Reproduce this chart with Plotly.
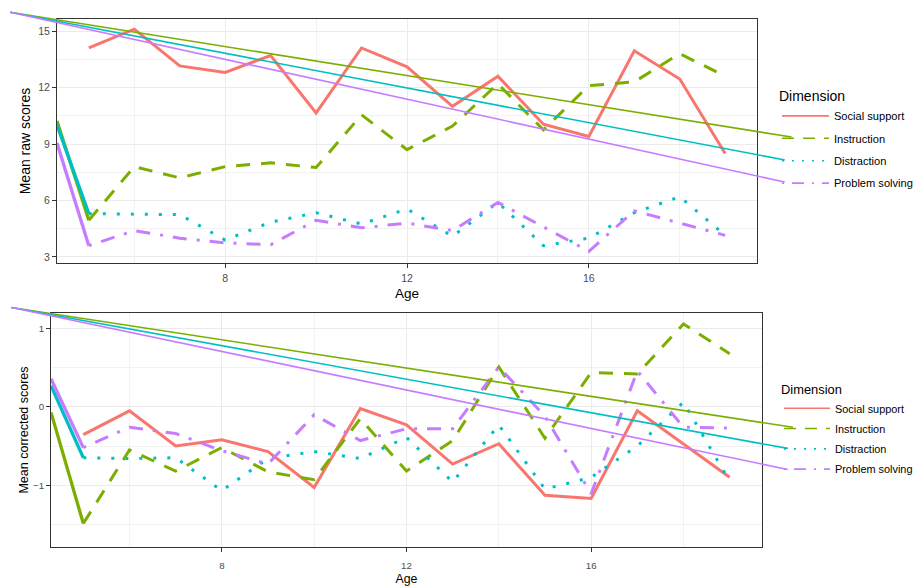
import plotly.graph_objects as go

AGES = list(range(5, 20))
DIMENSIONS = ['Social support', 'Instruction', 'Distraction', 'Problem solving']
COLORS = ['#F8766D', '#7CAE00', '#00BFC4', '#C77CFF']
DASHES = ['solid', '14px,11px', '3px,11px', '3px,10px,14px,10px']
KEY_DASHES = ['solid', '12px,9px', '2px,8px', '2px,8px,12px,8px']

# mean raw scores by age
RAW_SOCIAL = [14.1, 15.1, 13.15, 12.8, 13.7, 10.65, 14.1, 13.1, 11.0, 12.6, 10.05, 9.4, 13.95, 12.45, 8.5]
RAW_INSTRUCTION = [4.95, 7.8, 7.2, 7.8, 8.0, 7.75, 10.55, 8.7, 9.95, 12.2, 9.75, 12.1, 12.3, 13.8, 12.6]
RAW_DISTRACTION = [5.3, 5.28, 5.25, 3.9, 4.85, 5.35, 4.75, 5.55, 4.1, 5.9, 3.6, 4.0, 5.35, 6.2, 4.15]
RAW_PROBLEM = [3.6, 4.4, 4.0, 3.75, 3.65, 4.95, 4.55, 4.8, 4.4, 5.9, 4.6, 3.3, 5.45, 4.8, 4.15]

# mean corrected scores by age
COR_SOCIAL = [-0.355, -0.05, -0.5, -0.42, -0.57, -1.03, -0.02, -0.23, -0.73, -0.47, -1.13, -1.17, -0.05, -0.48, -0.9]
COR_INSTRUCTION = [-1.49, -0.55, -0.82, -0.52, -0.83, -0.93, -0.15, -0.82, -0.43, 0.51, -0.4, 0.44, 0.42, 1.06, 0.68]
COR_DISTRACTION = [-0.65, -0.66, -0.65, -1.07, -0.66, -0.57, -0.66, -0.39, -0.96, -0.23, -1.05, -0.9, -0.5, 0.06, -0.95]
COR_PROBLEM = [-0.52, -0.26, -0.34, -0.56, -0.73, -0.1, -0.43, -0.28, -0.28, 0.51, -0.12, -1.11, 0.46, -0.26, -0.27]

RAW = [RAW_SOCIAL, RAW_INSTRUCTION, RAW_DISTRACTION, RAW_PROBLEM]
COR = [COR_SOCIAL, COR_INSTRUCTION, COR_DISTRACTION, COR_PROBLEM]

# stray segments the original renderer left on the page (data units of each panel)
RAW_LEADIN = [None, 10.22, 10.0, 9.05]
COR_LEADIN = [None, -0.07, 0.27, 0.36]
RAW_STRAY_START = (3.27, 16.0)
RAW_STRAY_END = [None, (20.46, 9.37), (20.31, 8.15), (20.31, 6.98)]
COR_STRAY_START = (3.44, 1.27)
COR_STRAY_END = [None, (20.37, -0.26), (20.26, -0.53), (20.26, -0.80)]

X_RANGE = [4.3, 19.7]
RAW_RANGE = [2.68, 15.64]
COR_RANGE = [-1.79, 1.2]

FONT = 'Liberation Sans, Arial, sans-serif'

fig = go.Figure()


def add_panel(values, leadin, xa, ya, legend):
    for i, name in enumerate(DIMENSIONS):
        if leadin[i] is not None:
            fig.add_trace(go.Scatter(x=[X_RANGE[0], AGES[0]], y=[leadin[i], values[i][0]],
                                     mode='lines', line=dict(color=COLORS[i], width=3.3),
                                     xaxis=xa, yaxis=ya, showlegend=False, hoverinfo='skip'))
    for i, name in enumerate(DIMENSIONS):
        fig.add_trace(go.Scatter(x=AGES, y=values[i], name=name, mode='lines',
                                 line=dict(color=COLORS[i], width=3, dash=DASHES[i]),
                                 xaxis=xa, yaxis=ya, showlegend=False))
        # legend-only entry with the thinner ggplot key
        fig.add_trace(go.Scatter(x=[None], y=[None], name=name, mode='lines',
                                 line=dict(color=COLORS[i], width=1.6, dash=KEY_DASHES[i]),
                                 xaxis=xa, yaxis=ya, legend=legend, legendgroup=legend + name))


def add_strays(start, ends, yr, xref, yref):
    def fx(v):
        return (v - X_RANGE[0]) / (X_RANGE[1] - X_RANGE[0])

    def fy(v):
        return (v - yr[0]) / (yr[1] - yr[0])

    for i, end in enumerate(ends):
        if end is None:
            continue
        fig.add_shape(type='line', xref=xref, yref=yref,
                      x0=fx(start[0]), y0=fy(start[1]), x1=fx(end[0]), y1=fy(end[1]),
                      line=dict(color=COLORS[i], width=1.6), layer='above')


add_panel(RAW, RAW_LEADIN, 'x', 'y', 'legend')
add_panel(COR, COR_LEADIN, 'x2', 'y2', 'legend2')
add_strays(RAW_STRAY_START, RAW_STRAY_END, RAW_RANGE, 'x domain', 'y domain')
add_strays(COR_STRAY_START, COR_STRAY_END, COR_RANGE, 'x2 domain', 'y2 domain')


def axis_style(tick_size, title_size):
    return dict(showline=True, mirror=True, linecolor='#333333', linewidth=1,
                ticks='outside', ticklen=4, tickcolor='#333333', tickwidth=1,
                showgrid=True, gridcolor='#EBEBEB', gridwidth=1, zeroline=False,
                automargin=False,
                tickfont=dict(family=FONT, size=tick_size, color='#4D4D4D'),
                title_font=dict(family=FONT, size=title_size, color='black'))


xa1 = axis_style(10.5, 13.5)
xa1.update(domain=[0.05355, 0.8186], range=X_RANGE, tick0=0, dtick=4, ticklabelstandoff=1,
           minor=dict(dtick=2, showgrid=True, gridcolor='#F2F2F2', gridwidth=1),
           title=dict(text='Age', standoff=5), anchor='y')
ya1 = axis_style(10.5, 14)
ya1.update(domain=[0.5588, 0.9810], range=RAW_RANGE, tick0=0, dtick=3,
           minor=dict(dtick=1.5, showgrid=True, gridcolor='#F2F2F2', gridwidth=1),
           title=dict(text='Mean raw scores', standoff=4), anchor='x')
xa2 = axis_style(9.7, 12.3)
xa2.update(domain=[0.0470, 0.8240], range=X_RANGE, tick0=0, dtick=4, ticklabelstandoff=5,
           minor=dict(dtick=2, showgrid=True, gridcolor='#F2F2F2', gridwidth=1),
           title=dict(text='Age', standoff=4), anchor='y2')
ya2 = axis_style(9.7, 12.5)
ya2.update(domain=[0.0675, 0.4723], range=COR_RANGE, tick0=0, dtick=1,
           minor=dict(dtick=0.5, showgrid=True, gridcolor='#F2F2F2', gridwidth=1),
           title=dict(text='Mean corrected scores', standoff=1), anchor='x2')

# page body keeps its 8px margin; the figure is shifted by it and the overflow is hidden
fig.update_layout(
    width=915, height=578,
    margin=dict(l=0, r=0, t=0, b=0, autoexpand=False),
    paper_bgcolor='white', plot_bgcolor='white',
    font=dict(family=FONT, color='black'),
    xaxis=xa1, yaxis=ya1, xaxis2=xa2, yaxis2=ya2,
    legend=dict(x=0.8404, y=0.8699, xanchor='left', yanchor='top',
                title=dict(text='Dimension', font=dict(size=14)),
                font=dict(size=11.1), itemwidth=47, traceorder='grouped',
                tracegroupgap=3.4, bgcolor='rgba(0,0,0,0)'),
    legend2=dict(x=0.8426, y=0.3616, xanchor='left', yanchor='top',
                 title=dict(text='Dimension', font=dict(size=12.9)),
                 font=dict(size=10.9), itemwidth=46, traceorder='grouped',
                 tracegroupgap=1.3, bgcolor='rgba(0,0,0,0)'),
)

fig.write_html('out.html')
